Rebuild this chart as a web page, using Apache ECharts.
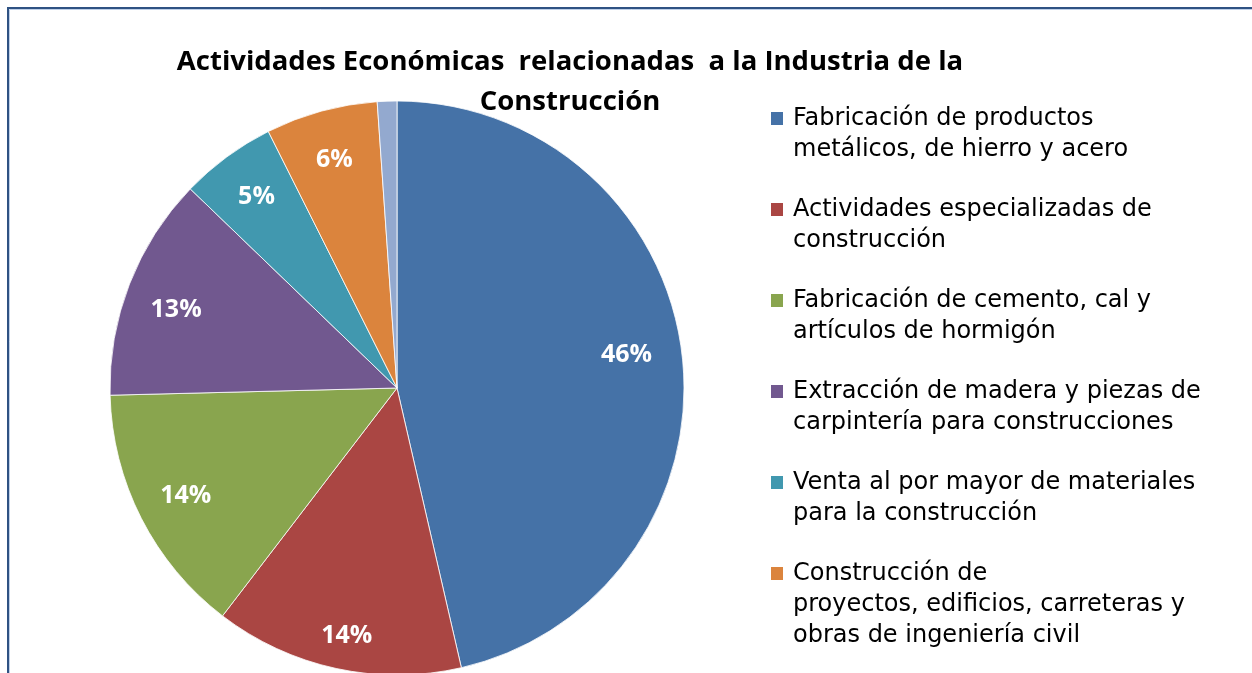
<!DOCTYPE html>
<html><head><meta charset="utf-8">
<script src="https://cdn.jsdelivr.net/npm/echarts@6/dist/echarts.min.js"></script>
<style>html,body{margin:0;padding:0;background:#fff}#c{width:1252px;height:673px}</style>
</head><body><div id="c"></div>
<script>
const titleText = 'Actividades Económicas  relacionadas  a la Industria de la\nConstrucción';
const categories = [
  'Fabricación de productos\nmetálicos, de hierro y acero',
  'Actividades especializadas de\nconstrucción',
  'Fabricación de cemento, cal y\nartículos de hormigón',
  'Extracción de madera y piezas de\ncarpintería para construcciones',
  'Venta al por mayor de materiales\npara la construcción',
  'Construcción de\nproyectos, edificios, carreteras y\nobras de ingeniería civil',
  'Otros'
];
const values = [46.4, 14.0, 14.2, 12.6, 5.4, 6.3, 1.1];
const colors = ['#4572a7', '#aa4643', '#89a54e', '#71588f', '#4198af', '#db843d', '#93a9cf'];
const legendCount = 6;

const chart = echarts.init(document.getElementById('c'), null, {renderer: 'canvas'});
const data = categories.map((n, i) => ({name: n, value: values[i], itemStyle: {color: colors[i]}}));
const labelData = categories.map((n, i) => ({name: n, value: values[i], label: {show: values[i] >= 2}}));

const rich = {
  t: {fontFamily: 'DejaVu Sans', fontSize: 24, color: '#000', lineHeight: 31},
  sp: {width: 22, height: 12}
};
colors.forEach((c, i) => { rich['q' + i] = {width: 12, height: 13, backgroundColor: c, verticalAlign: 'middle'}; rich['g' + i] = {width: 10}; });

chart.setOption({
  animation: false,
  title: {
    text: titleText, left: 565, top: 37, textAlign: 'center',
    textStyle: {fontFamily: 'Open Sans', fontWeight: 'bold', fontSize: 27.5, color: '#000', lineHeight: 40}
  },
  legend: {
    orient: 'vertical', left: 760, top: 98, itemGap: 29, height: 1000,
    itemWidth: 0, itemHeight: 0, icon: 'rect',
    data: categories.slice(0, legendCount),
    selectedMode: false,
    formatter: function (name) {
      const i = categories.indexOf(name);
      const lines = name.split('\n');
      return lines.map((l, k) => (k === 0 ? '{q' + i + '|}{g' + i + '|}' : '{sp|}') + '{t|' + l + '}').join('\n');
    },
    textStyle: {rich: rich, lineHeight: 31, padding: 0}
  },
  series: [
    {
      type: 'pie', center: [397, 388], radius: 287, startAngle: 90, clockwise: true,
      silent: true, data: data, label: {show: false}, labelLine: {show: false},
      itemStyle: {borderColor: '#fff', borderWidth: 0.8}
    },
    {
      type: 'pie', center: [397, 388], radius: [0, 468], startAngle: 90, clockwise: true,
      silent: true, data: labelData,
      itemStyle: {color: 'rgba(0,0,0,0)', borderWidth: 0},
      label: {
        show: true, position: 'inside', color: '#fff', fontFamily: 'Open Sans', fontWeight: 'bold', fontSize: 25,
        formatter: p => Math.round(p.percent) + '%'
      },
      labelLayout: p => (p.dataIndex === 1 ? {dy: 16} : p.dataIndex === 0 ? {dx: -6, dy: -6} : p.dataIndex === 3 ? {dy: 8} : {}),
      labelLine: {show: false}, z: 3
    }
  ],
  graphic: [
    {type: 'rect', shape: {x: 8, y: 8, width: 1400, height: 800}, style: {fill: 'none', stroke: '#2f5283', lineWidth: 2}, z: 100},
    {type: 'rect', shape: {x: 9.5, y: 9.5, width: 1400, height: 800}, style: {fill: 'none', stroke: '#bfd0e8', lineWidth: 1}, z: 100}
  ]
});
</script></body></html>
